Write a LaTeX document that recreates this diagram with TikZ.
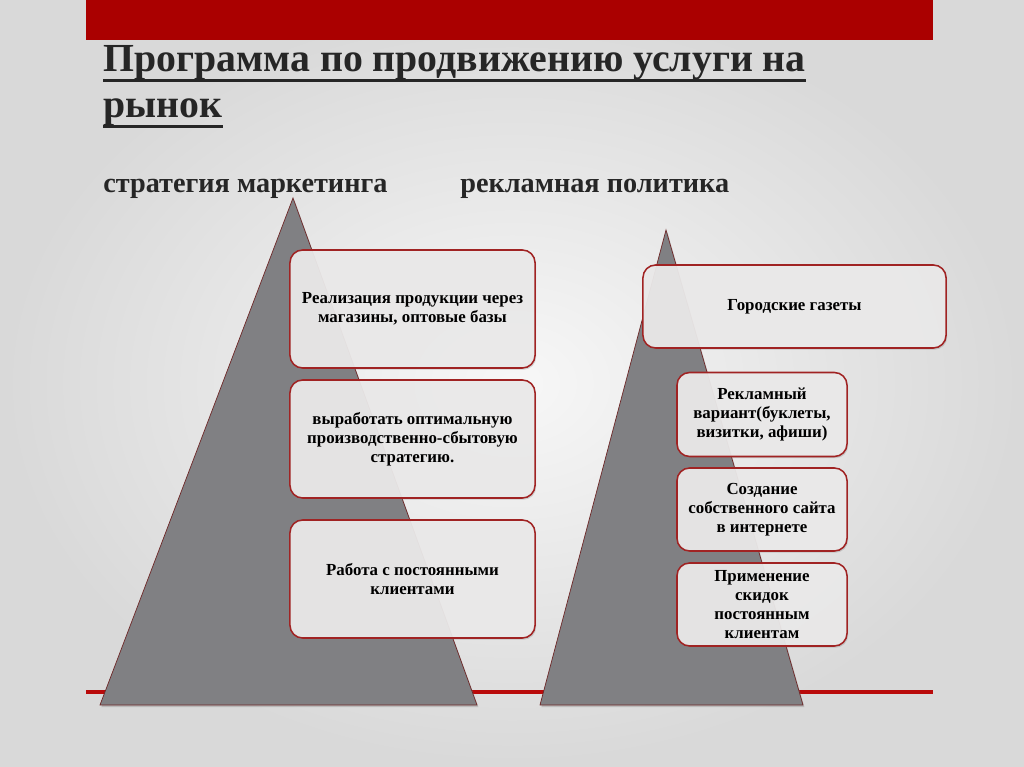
\documentclass[tikz,border=0pt]{standalone}
\usepackage{fontspec}
\setmainfont{Liberation Serif}
\usetikzlibrary{shadows}
\definecolor{barred}{RGB}{170,0,0}
\definecolor{linered}{RGB}{185,10,10}
\definecolor{pyrgray}{RGB}{128,128,131}
\definecolor{pyredge}{RGB}{110,40,40}
\definecolor{itemedge}{RGB}{160,35,35}
\definecolor{itemfill}{RGB}{236,235,235}

\begin{document}
\begin{tikzpicture}[x=0.025cm,y=-0.025cm,
  pyr/.style={fill=pyrgray,draw=pyredge,line width=0.5pt,
    drop shadow={shadow xshift=1pt,shadow yshift=-1.5pt,opacity=0.35}},
  item/.style={draw=itemedge,line width=1.1pt,fill=itemfill,fill opacity=0.93,
    text opacity=1,rounded corners=9pt,align=center,inner sep=2pt,
    font=\bfseries\fontsize{12}{13.6}\selectfont,
    drop shadow={shadow xshift=0.8pt,shadow yshift=-1.2pt,opacity=0.3}},
  ttl/.style={anchor=base west,inner sep=0pt,text=black!85,font=\bfseries\fontsize{28.3}{30}\selectfont},
  sub/.style={anchor=base west,inner sep=0pt,text=black!85,font=\bfseries\fontsize{20.1}{22}\selectfont}]
  \useasboundingbox (0,0) rectangle (1024,767);
  \shade [inner color=white!97!black,outer color=black!15] (0,0) rectangle (1024,767);

  % top bar
  \fill [barred] (86,0) rectangle (933,40);

  % title
  \node [ttl] (t1) at (103,72) {Программа по продвижению услуги на};
  \node [ttl] (t2) at (103,118) {рынок};
  \draw [line width=2pt,black!85] ([yshift=-6pt]t1.base west) -- ([yshift=-6pt]t1.base east);
  \draw [line width=2pt,black!85] ([yshift=-6pt]t2.base west) -- ([yshift=-6pt]t2.base east);

  \node [sub] (s1) at (103,193) {стратегия маркетинга};
  \node [sub] (s2) at (460,193) {рекламная политика};

  % base line
  \coordinate (b1) at (86,692);
  \coordinate (b2) at (933,692);
  \draw [linered,line width=2.2pt] (b1) -- (b2);

  % pyramids
  \draw [pyr] (100,705) -- (477,705) -- (293,198) -- cycle;
  \draw [pyr] (540,705) -- (803,705) -- (666,230) -- cycle;

  % marketing strategy
  \node [item,minimum width=6.125cm,minimum height=2.95cm] (m1) at (412.5,309)
    {Реализация продукции через\\магазины, оптовые базы};
  \node [item,minimum width=6.125cm,minimum height=2.95cm] (m2) at (412.5,439)
    {выработать оптимальную\\производственно-сбытовую\\стратегию.};
  \node [item,minimum width=6.125cm,minimum height=2.95cm] (m3) at (412.5,579)
    {Работа с постоянными\\клиентами};

  % advertising
  \node [item,minimum width=7.575cm,minimum height=2.075cm] (r1) at (794.5,306.5)
    {Городские газеты};
  \node [item,minimum width=4.25cm,minimum height=2.1cm] (r2) at (762,414.5)
    {Рекламный\\вариант(буклеты,\\визитки, афиши)};
  \node [item,minimum width=4.25cm,minimum height=2.075cm] (r3) at (762,509.5)
    {Создание\\собственного сайта\\в интернете};
  \node [item,minimum width=4.25cm,minimum height=2.075cm] (r4) at (762,604.5)
    {Применение\\скидок\\постоянным\\клиентам};
\end{tikzpicture}
\end{document}
